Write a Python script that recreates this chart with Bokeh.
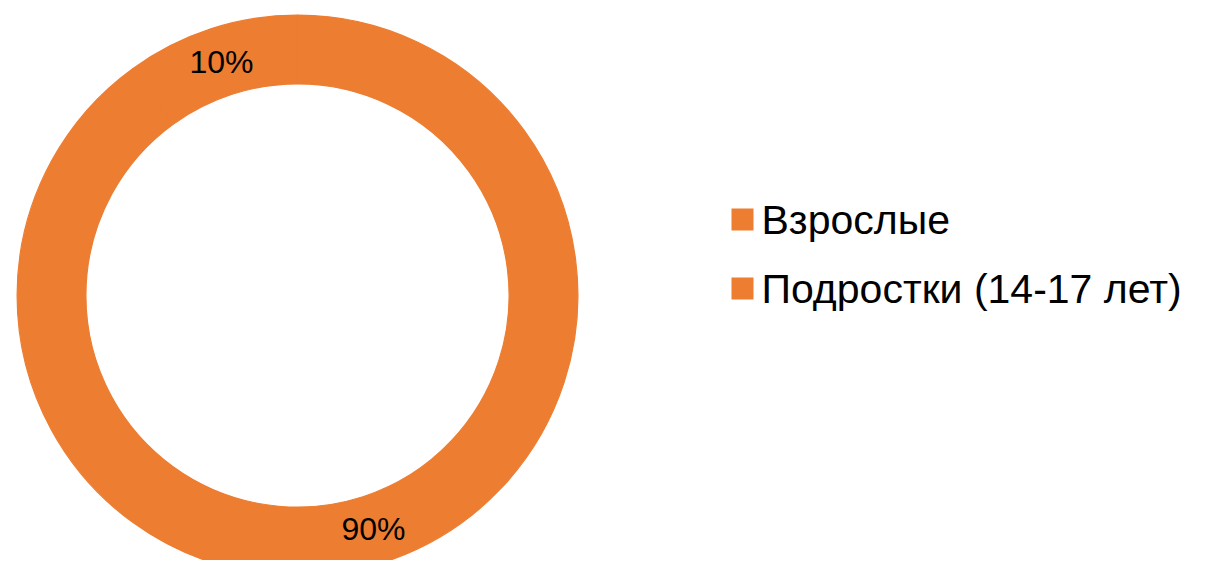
import math
from bokeh.plotting import figure
from bokeh.models import Range1d, ColumnDataSource
from bokeh.core.properties import value
from bokeh.embed import file_html
from bokeh.resources import INLINE

categories = ["Взрослые", "Подростки (14-17 лет)"]
values = [90, 10]
labels = ["90%", "10%"]
colors = ["#ED7D31", "#ED7D31"]

W, H = 1189, 560
cx, cy = 297, H - 295
r_out, r_in = 281, 211

p = figure(width=W, height=H, x_range=Range1d(0, W), y_range=Range1d(0, H),
           min_border=0, toolbar_location=None, output_backend="svg")
p.axis.visible = False
p.grid.visible = False
p.outline_line_color = None
p.background_fill_color = "white"

total = sum(values)
start = math.pi / 2
starts, ends, lx, ly = [], [], [], []
for v in values:
    sweep = 2 * math.pi * v / total
    end = start - sweep
    starts.append(start)
    ends.append(end)
    mid = (start + end) / 2
    rm = (r_out + r_in) / 2
    lx.append(cx + rm * math.cos(mid))
    ly.append(cy + rm * math.sin(mid))
    start = end

src = ColumnDataSource(dict(x=[cx] * len(values), y=[cy] * len(values),
                            start=starts, end=ends, color=colors,
                            lx=lx, ly=ly, label=labels, cat=categories))

p.annular_wedge(x="x", y="y", inner_radius=r_in + 0.6, outer_radius=r_out - 0.6,
                start_angle="start", end_angle="end", direction="clock",
                fill_color="color", line_color="color", line_width=1.2, source=src)

p.text(x="lx", y="ly", text="label", source=src, text_align="center",
       text_baseline="middle", text_font=value("Liberation Sans"),
       text_font_size="32px", text_color="#000000")

# legend (manual)
leg_x = [742] * len(categories)
leg_y = [H - 219 - 69 * i for i in range(len(categories))]
lsrc = ColumnDataSource(dict(x=leg_x, y=leg_y, tx=[x + 19 for x in leg_x],
                             ty=leg_y, cat=categories, color=colors))
p.rect(x="x", y="y", width=22, height=22, fill_color="color", line_color=None, source=lsrc)
p.text(x="tx", y="ty", text="cat", source=lsrc, text_align="left",
       text_baseline="middle", text_font=value("Liberation Sans"),
       text_font_size="41px", text_color="#000000")

open("out.html", "w").write(file_html(p, INLINE))
